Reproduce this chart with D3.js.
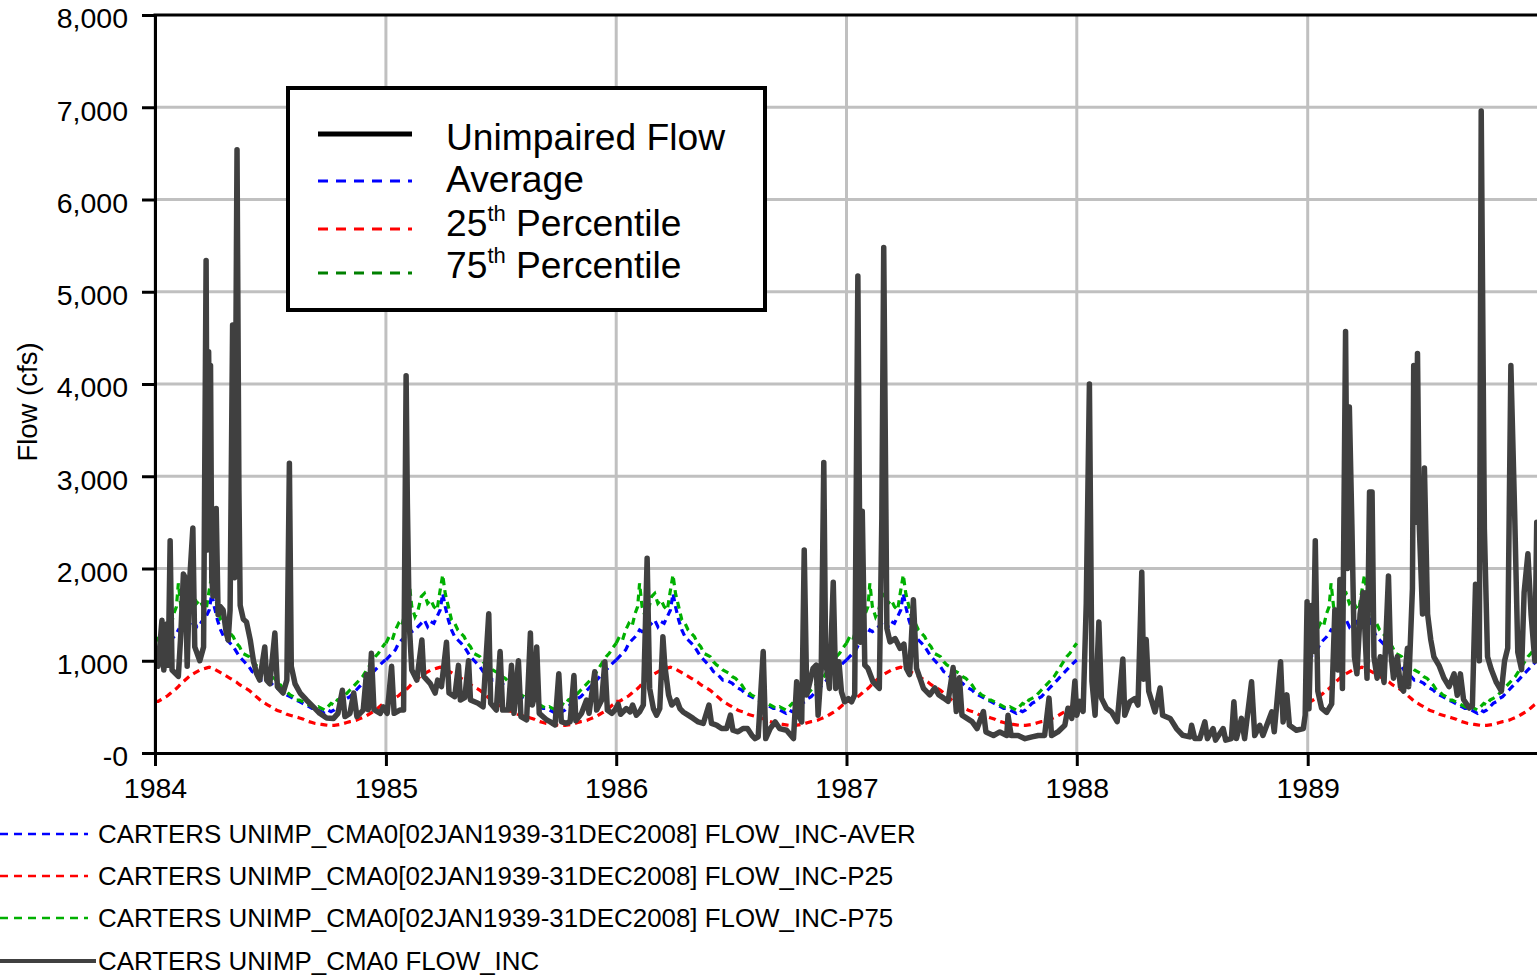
<!DOCTYPE html>
<html>
<head>
<meta charset="utf-8">
<script src="https://cdn.jsdelivr.net/npm/d3@7"></script>
<style>
  body { margin: 0; background: #fff; }
  svg { display: block; font-family: "Liberation Sans", Arial, Helvetica, sans-serif; }
</style>
</head>
<body>
<svg id="chart" width="1537" height="976"></svg>
<script>
// ---- Daily unimpaired flow (days since 1984-01-01, cfs) ----
const flowDays = [0,5,11,14,19,21,24,27,37,41,45,48,51,55,60,63,71,77,81,83,85,87,88,90,92,97,100,103,108,113,116,119,123,126,130,133,135,140,145,151,156,161,166,174,177,182,190,194,203,209,213,216,222,230,240,251,261,272,283,290,297,301,309,315,320,330,335,338,343,347,357,362,368,375,379,388,394,398,400,403,407,415,423,426,436,444,448,454,462,466,475,481,484,491,497,500,512,520,529,532,541,547,551,560,565,569,576,580,589,595,598,601,605,609,621,626,634,640,644,652,658,664,667,676,684,688,697,700,708,713,717,724,729,734,738,747,753,757,763,768,774,780,784,790,795,800,805,808,814,819,827,832,837,845,853,861,869,878,882,890,898,906,912,916,924,932,939,946,951,956,964,968,975,983,990,1001,1012,1017,1020,1025,1029,1033,1038,1043,1048,1051,1056,1060,1063,1069,1075,1079,1084,1088,1093,1099,1104,1109,1114,1118,1121,1125,1130,1138,1148,1152,1155,1160,1165,1173,1181,1187,1191,1196,1202,1207,1218,1228,1236,1242,1250,1257,1265,1270,1275,1279,1287,1295,1303,1313,1317,1329,1339,1350,1352,1357,1368,1379,1390,1400,1410,1417,1421,1431,1442,1447,1453,1458,1461,1466,1471,1476,1481,1485,1490,1496,1500,1508,1516,1525,1534,1537,1545,1553,1558,1564,1567,1571,1575,1585,1593,1597,1609,1619,1629,1640,1643,1648,1656,1664,1668,1677,1681,1693,1697,1706,1710,1714,1722,1727,1738,1743,1751,1756,1770,1774,1784,1788,1794,1798,1809,1820,1823,1826,1829,1833,1836,1839,1843,1849,1857,1865,1870,1875,1878,1882,1887,1890,1893,1897,1901,1905,1910,1915,1921,1925,1929,1932,1937,1942,1948,1955,1958,1963,1969,1974,1979,1985,1987,1993,1995,1998,2001,2004,2009,2012,2017,2022,2027,2035,2043,2051,2059,2064,2069,2074,2083,2088,2093,2099,2102,2107,2112,2118,2126,2134,2139,2144,2149,2155,2160,2166,2170,2176,2181,2187,2190,2192];
const flowCfs = [1120,940,1440,900,1400,950,2300,900,830,1300,1940,1900,940,1880,2440,1150,1000,1150,5340,2200,4350,3000,4200,1900,1700,2650,1500,1590,1550,1300,1225,1550,4640,1900,6540,2850,1600,1450,1420,1225,1000,860,790,1150,790,750,1300,720,650,790,3140,940,750,650,575,500,430,380,375,430,680,395,430,650,395,465,850,470,1080,470,430,500,430,940,430,466,466,4090,2700,1400,900,790,1225,830,755,650,790,720,1200,650,610,950,575,600,1000,575,540,500,1510,540,466,1100,466,466,950,430,1000,394,358,1300,520,600,1150,430,358,340,304,860,340,322,340,840,350,430,574,430,880,466,574,990,466,430,466,530,420,482,445,520,410,445,520,2110,700,480,410,482,1260,950,630,520,575,482,445,410,375,337,320,520,320,302,265,265,410,247,230,265,265,192,156,175,1100,156,265,337,265,247,156,772,410,337,2200,630,772,917,953,410,917,3150,990,700,1850,700,990,663,555,590,555,630,5170,1200,2620,953,917,772,700,2545,5480,1350,1205,1240,1134,1180,917,850,1660,917,700,630,705,632,595,560,926,450,816,410,375,340,265,450,228,190,228,190,410,190,190,155,175,190,190,595,190,228,300,485,375,780,410,560,450,1620,4000,780,410,1420,595,485,445,340,1020,410,555,590,520,1960,800,1230,670,445,705,410,375,265,192,175,300,156,156,337,156,265,140,265,140,156,555,156,375,156,772,190,300,190,445,230,990,337,630,300,247,265,410,1640,480,1600,1100,2300,670,487,440,533,1553,900,1880,700,4570,2000,3750,2480,1043,858,1507,1740,811,2830,2830,1043,811,1043,765,1920,1136,811,1043,719,672,1136,719,1785,4200,2500,4330,2430,1507,3090,1507,1229,1043,950,811,719,858,625,858,580,487,510,1830,1000,6960,2430,1043,904,765,672,997,1136,4200,2600,1090,904,1740,2160,1507,997,2500,1800];

// ---- Day-of-year statistics, 02JAN1939-31DEC2008 (cfs) ----
const statDoy = [0,5,10,15,20,25,30,34,37,41,46,51,56,61,66,71,76,81,86,90,94,99,104,109,114,119,124,129,134,139,144,149,154,159,164,169,174,179,184,189,194,199,204,209,214,219,224,229,234,239,244,249,254,259,264,269,274,279,284,289,294,299,304,309,314,319,324,329,334,339,344,349,354,359,365];
const statAver = [1008,1044,1080,1117,1190,1225,1260,1297,1333,1315,1333,1370,1406,1442,1370,1424,1406,1478,1550,1730,1587,1442,1333,1260,1225,1190,1153,1098,1044,1008,972,936,882,864,828,791,791,773,755,719,701,683,647,629,611,592,574,556,538,520,502,484,484,466,448,430,466,448,466,502,538,556,592,611,647,683,719,755,791,828,864,900,936,972,1008];
const statP25 = [560,560,580,600,620,650,680,700,720,750,780,810,840,860,880,900,910,920,930,920,910,890,870,850,830,810,790,770,740,720,700,680,650,620,590,560,540,520,500,480,460,450,440,420,410,400,390,380,370,350,340,330,320,315,310,305,300,300,300,305,310,320,330,340,345,355,370,385,400,420,440,460,490,520,550];
const statP75 = [1190,1260,1225,1333,1405,1370,1514,1587,1840,1587,1478,1550,1695,1730,1622,1660,1587,1550,1767,1930,1730,1587,1442,1406,1333,1297,1260,1190,1153,1080,1062,1044,990,955,936,900,882,864,828,810,773,737,683,665,629,611,574,574,556,538,520,502,484,502,484,466,502,538,520,574,592,611,647,683,719,755,791,828,882,936,990,1044,1080,1135,1190];
const statYears = [1984, 1985, 1986, 1987, 1989];

// ---- Axes ----
const yearTicks = [1984, 1985, 1986, 1987, 1988, 1989];
const yTickValues = [0, 1000, 2000, 3000, 4000, 5000, 6000, 7000, 8000];
const yTickLabels = ["-0", "1,000", "2,000", "3,000", "4,000", "5,000", "6,000", "7,000", "8,000"];

// ---- Legends ----
const seriesNames = ["Unimpaired Flow", "Average", "25", "75"];
const footerNames = [
  "CARTERS UNIMP_CMA0[02JAN1939-31DEC2008] FLOW_INC-AVER",
  "CARTERS UNIMP_CMA0[02JAN1939-31DEC2008] FLOW_INC-P25",
  "CARTERS UNIMP_CMA0[02JAN1939-31DEC2008] FLOW_INC-P75",
  "CARTERS UNIMP_CMA0 FLOW_INC"
];

if (flowDays.length !== flowCfs.length) throw new Error(`flow lengths ${flowDays.length} vs ${flowCfs.length}`);
[statAver, statP25, statP75].forEach((a, i) => {
  if (a.length !== statDoy.length) throw new Error(`stat ${i} length ${a.length} vs ${statDoy.length}`);
});

const COL = { flow: "#404040", aver: "#0000ff", p25: "#ff0000", p75: "#00b000", grid: "#c0c0c0" };

const svg = d3.select("#chart");
const plotL = 155, plotR = 1538, plotT = 15, plotB = 753;

const t0 = new Date(Date.UTC(1984, 0, 1));
const x = d3.scaleUtc().domain([t0, new Date(Date.UTC(1990, 0, 1))]).range([plotL, plotR]);
const y = d3.scaleLinear().domain([0, 8000]).range([plotB, plotT]);

svg.append("defs").append("clipPath").attr("id", "plot")
  .append("rect").attr("x", plotL).attr("y", plotT).attr("width", plotR - plotL).attr("height", plotB - plotT);

// grid
const grid = svg.append("g");
grid.selectAll("line.v").data(yearTicks).join("line")
  .attr("x1", d => x(new Date(Date.UTC(d, 0, 1)))).attr("x2", d => x(new Date(Date.UTC(d, 0, 1))))
  .attr("y1", plotT).attr("y2", plotB)
  .attr("stroke", COL.grid).attr("stroke-width", 3);
grid.selectAll("line.h").data(yTickValues.slice(1, -1)).join("line")
  .attr("x1", plotL).attr("x2", plotR).attr("y1", d => y(d)).attr("y2", d => y(d))
  .attr("stroke", COL.grid).attr("stroke-width", 3);

const line = d3.line().x(d => x(d.date)).y(d => y(d.v));
const plot = svg.append("g").attr("clip-path", "url(#plot)");

// statistic curves, one path per year
const stats = [
  { vals: statAver, color: COL.aver },
  { vals: statP25, color: COL.p25 },
  { vals: statP75, color: COL.p75 }
];
stats.forEach(s => {
  statYears.forEach(yr => {
    const start = new Date(Date.UTC(yr, 0, 1));
    const pts = statDoy.map((d, i) => ({ date: d3.utcDay.offset(start, d), v: s.vals[i] }));
    plot.append("path").attr("d", line(pts))
      .attr("fill", "none").attr("stroke", s.color).attr("stroke-width", 3.2)
      .attr("stroke-dasharray", "7,5");
  });
});

// unimpaired flow
const flowPts = flowDays.map((d, i) => ({ date: d3.utcDay.offset(t0, d), v: flowCfs[i] }));
plot.append("path").attr("d", line(flowPts))
  .attr("fill", "none").attr("stroke", COL.flow).attr("stroke-width", 5.5)
  .attr("stroke-linejoin", "round").attr("stroke-linecap", "round");

// axes
const yAxis = svg.append("g").attr("transform", `translate(${plotL},0)`)
  .call(d3.axisLeft(y).tickValues(yTickValues).tickFormat((d, i) => yTickLabels[i])
    .tickSize(13).tickSizeOuter(0).tickPadding(14));
const xAxis = svg.append("g").attr("transform", `translate(0,${plotB})`)
  .call(d3.axisBottom(x).tickValues(yearTicks.map(yr => new Date(Date.UTC(yr, 0, 1))))
    .tickFormat(d3.utcFormat("%Y")).tickSize(13).tickSizeOuter(0).tickPadding(12));
[yAxis, xAxis].forEach(g => {
  g.select(".domain").attr("stroke", "#000").attr("stroke-width", 3);
  g.selectAll(".tick line").attr("stroke", "#000").attr("stroke-width", 3);
  g.selectAll(".tick text").attr("fill", "#000").attr("font-size", 28.5)
    .attr("font-family", "Liberation Sans, Arial, sans-serif");
});
yAxis.selectAll(".tick text").attr("dy", "0.45em");
svg.append("line").attr("x1", plotL - 1.5).attr("x2", plotR).attr("y1", plotT).attr("y2", plotT)
  .attr("stroke", "#000").attr("stroke-width", 3);

svg.append("text").attr("transform", "translate(27,402) rotate(-90)")
  .attr("text-anchor", "middle").attr("dominant-baseline", "central")
  .attr("font-size", 27.5).text("Flow (cfs)");

// inner legend
const lg = svg.append("g");
lg.append("rect").attr("x", 288).attr("y", 88).attr("width", 477).attr("height", 222)
  .attr("fill", "#fff").attr("stroke", "#000").attr("stroke-width", 4);
const lgRows = [
  { ly: 134, ty: 150, color: "#000", w: 5, dash: null, name: seriesNames[0] },
  { ly: 181, ty: 192, color: COL.aver, w: 3, dash: "10,8", name: seriesNames[1] },
  { ly: 229, ty: 236, color: COL.p25, w: 3, dash: "10,8", name: seriesNames[2], sup: true },
  { ly: 273, ty: 278, color: "#008000", w: 3, dash: "10,8", name: seriesNames[3], sup: true }
];
lgRows.forEach(r => {
  lg.append("line").attr("x1", 318).attr("x2", 412).attr("y1", r.ly).attr("y2", r.ly)
    .attr("stroke", r.color).attr("stroke-width", r.w).attr("stroke-dasharray", r.dash);
  const t = lg.append("text").attr("x", 446).attr("y", r.ty).attr("font-size", 37.2);
  if (r.sup) {
    t.append("tspan").text(r.name);
    t.append("tspan").attr("font-size", 22).attr("dy", -15).text("th");
    t.append("tspan").attr("dy", 15).text(" Percentile");
  } else {
    t.text(r.name);
  }
});

// footer legend
const fg = svg.append("g");
const footRows = [
  { y: 834, color: COL.aver, dash: "8,6", w: 2.5, len: 88 },
  { y: 876, color: COL.p25, dash: "8,6", w: 2.5, len: 88 },
  { y: 918, color: COL.p75, dash: "8,6", w: 2.5, len: 88 },
  { y: 961, color: COL.flow, dash: null, w: 4, len: 96 }
];
footRows.forEach((r, i) => {
  fg.append("line").attr("x1", 0).attr("x2", r.len).attr("y1", r.y).attr("y2", r.y)
    .attr("stroke", r.color).attr("stroke-width", r.w).attr("stroke-dasharray", r.dash);
  fg.append("text").attr("x", 98).attr("y", r.y + 9).attr("font-size", 25.9).text(footerNames[i]);
});
</script>
</body>
</html>
